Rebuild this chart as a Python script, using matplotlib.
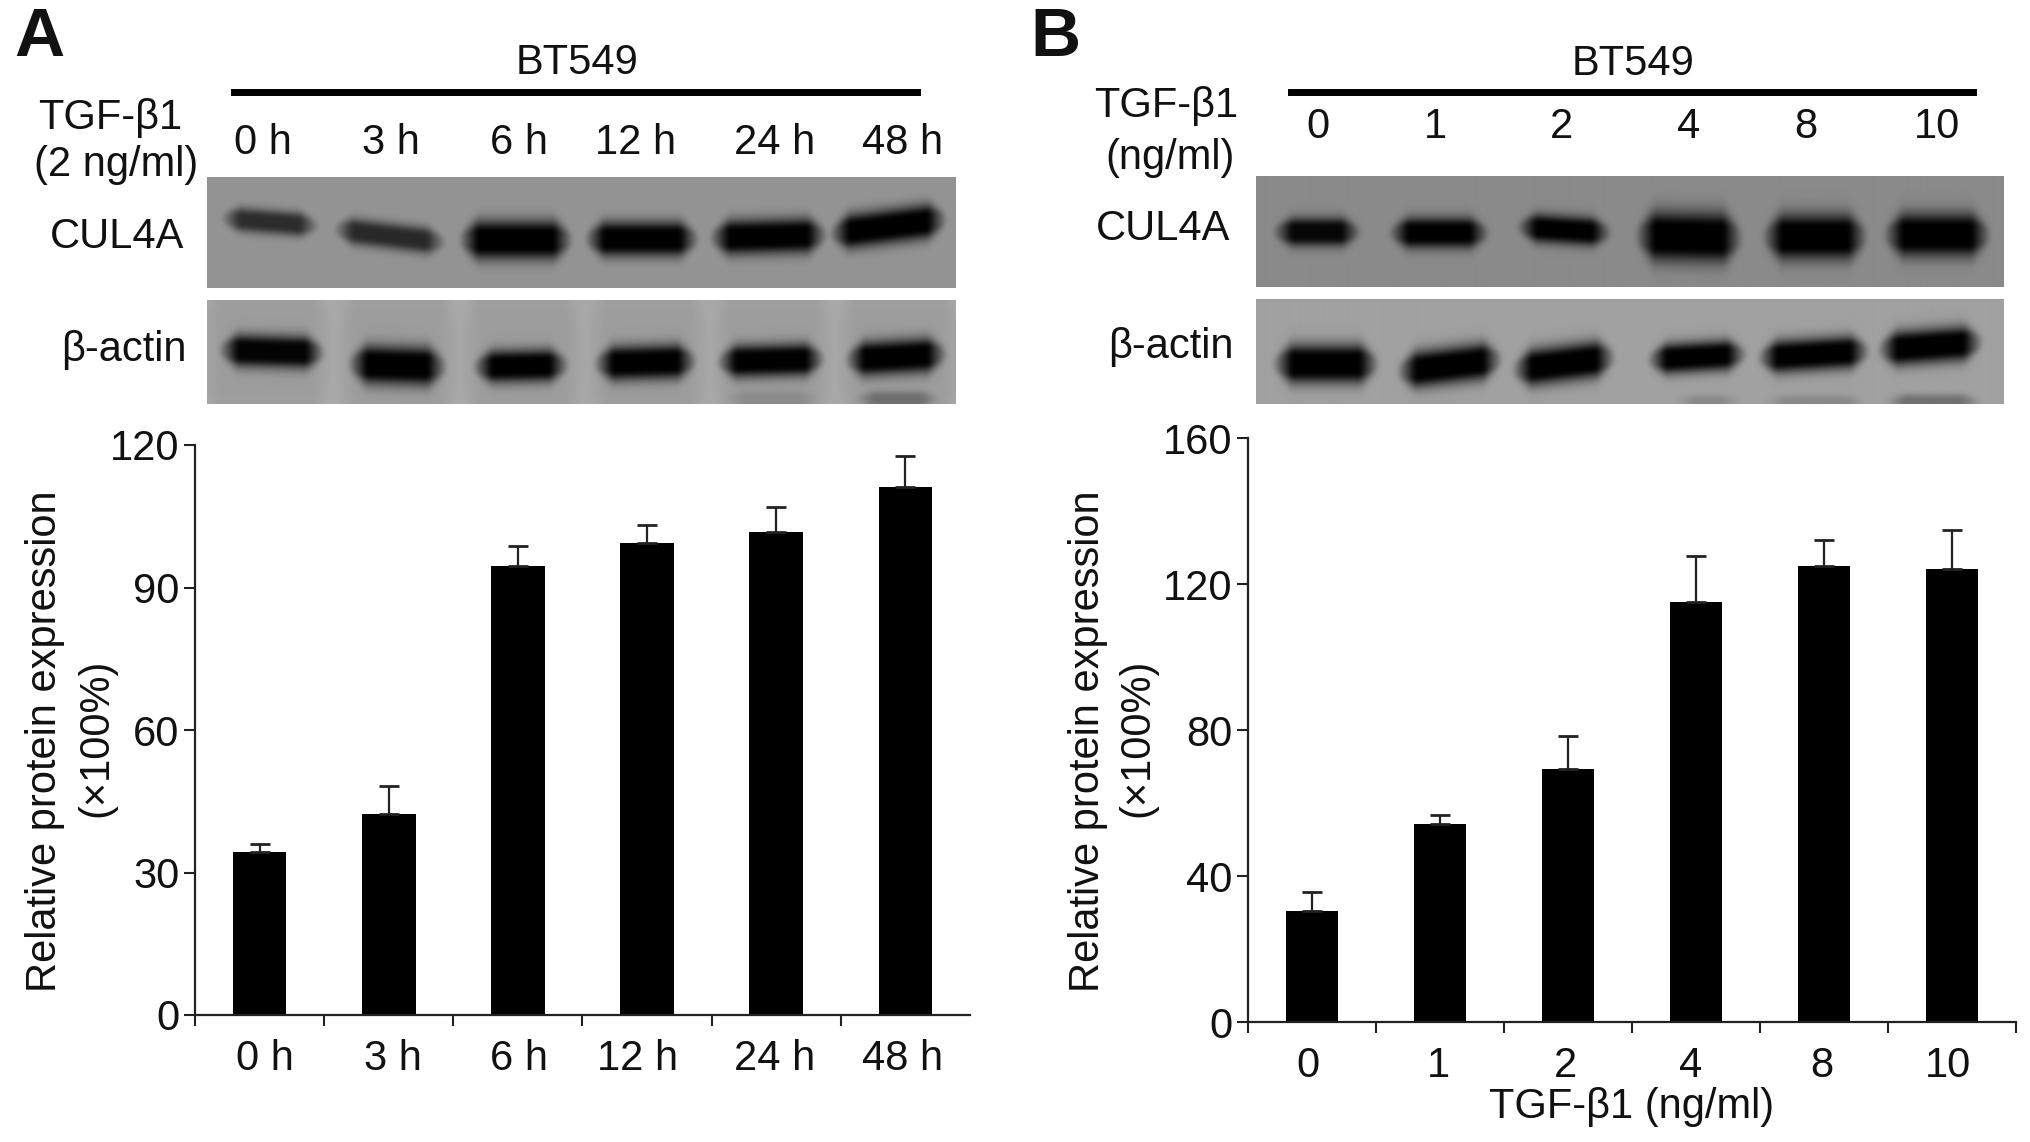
import numpy as np
import matplotlib
matplotlib.use("Agg")
import matplotlib.pyplot as plt

plt.rcParams["font.family"] = ["Liberation Sans", "DejaVu Sans"]

W, H = 2031, 1142

# Bar values
labels_a = ["0 h", "3 h", "6 h", "12 h", "24 h", "48 h"]
values_a = [34.4, 42.4, 94.5, 99.3, 101.6, 111.2]
err_a = [1.5, 5.8, 4.3, 3.9, 5.3, 6.5]

labels_b = ["0", "1", "2", "4", "8", "10"]
values_b = [30.4, 54.3, 69.2, 115.2, 124.8, 124.1]
err_b = [5.3, 2.5, 9.2, 12.6, 7.2, 10.7]

# Blot bands: x start, x end, y at left, y at right, half height, darkness
cul4a_a = [(226, 314, 218, 226, 11, 0.7), (339, 441, 229, 243, 12, 0.72), (464, 568, 240, 240, 18, 1.0),
           (590, 694, 239, 239, 16, 1.0), (715, 822, 238, 235, 16, 1.0), (835, 942, 234, 219, 16, 1.0)]
actin_a = [(205, 328, 350, 350, 70, 0.07), (340, 455, 355, 355, 70, 0.07), (465, 580, 355, 355, 70, 0.07),
           (590, 705, 355, 355, 70, 0.07), (715, 830, 355, 355, 70, 0.07), (840, 958, 355, 355, 70, 0.07),
           (224, 320, 350, 353, 15, 0.98), (353, 442, 364, 367, 18, 1.0), (478, 564, 367, 365, 15, 1.0),
           (599, 692, 364, 361, 16, 1.0), (722, 820, 362, 359, 15, 1.0), (850, 942, 360, 354, 16, 1.0),
           (730, 815, 399, 399, 7, 0.12), (860, 935, 399, 399, 7, 0.3)]
cul4a_b = [(1278, 1356, 232, 232, 13, 0.95), (1394, 1484, 233, 233, 14, 1.0), (1522, 1606, 227, 233, 13, 1.0),
           (1640, 1737, 236, 238, 23, 1.0), (1767, 1862, 237, 237, 21, 1.0), (1888, 1985, 235, 235, 20, 1.0)]
actin_b = [(1278, 1374, 364, 364, 18, 1.0), (1402, 1497, 372, 359, 17, 1.0), (1517, 1610, 370, 357, 17, 1.0),
           (1652, 1741, 360, 354, 14, 1.0), (1762, 1864, 358, 351, 15, 1.0), (1882, 1977, 350, 342, 16, 1.0),
           (1680, 1735, 401, 401, 5, 0.15), (1770, 1860, 401, 401, 5, 0.15), (1890, 1975, 401, 401, 6, 0.3)]


def px_axes(fig, x0, y0, x1, y1):
    # axes from reference pixel box (y going down)
    return fig.add_axes([x0 / W, 1 - y1 / H, (x1 - x0) / W, (y1 - y0) / H])


def soften(img, n=7):
    # small box blur along both directions, edges padded
    kernel = np.ones(n) / n
    pad = np.pad(img, n, mode="edge")
    pad = np.apply_along_axis(lambda r: np.convolve(r, kernel, mode="same"), 0, pad)
    pad = np.apply_along_axis(lambda r: np.convolve(r, kernel, mode="same"), 1, pad)
    return pad[n:-n, n:-n]


def draw_blot(fig, box, bands, bg):
    x0, y0, x1, y1 = box
    xx, yy = np.meshgrid(np.arange(x0, x1) + 0.5, np.arange(y0, y1) + 0.5)
    img = np.full(xx.shape, bg, dtype=float)
    for xs, xe, yl, yr, h, dark in bands:
        xs, xe = xs - 6, xe + 6
        t = (xx - xs) / (xe - xs)
        yc = yl + (yr - yl) * t
        edge = np.clip(np.minimum(t, 1 - t) * (xe - xs) / 20.0, 0.001, 1)
        taper = np.sqrt(edge)
        core = np.clip(1.3 * np.exp(-np.abs((yy - yc) / (h * taper)) ** 2.4), 0, 1) * edge
        img = img * (1 - dark * core)
    ax = px_axes(fig, x0, y0, x1, y1)
    ax.imshow(soften(img), cmap="gray", vmin=0, vmax=1, aspect="auto", interpolation="bilinear")
    ax.axis("off")


def draw_bars(ax, values, err, labels, ymax, yticks, width, shifts, cap):
    x = np.arange(len(values))
    ax.bar(x, values, width=width, color="black", linewidth=0)
    ax.errorbar(x, values, yerr=[np.zeros(len(err)), err], fmt="none", ecolor="#222222",
                elinewidth=1.6, capsize=cap, capthick=2)
    ax.set_xlim(-0.5, 5.5)
    ax.set_ylim(0, ymax)
    ax.set_yticks(yticks)
    ax.spines["top"].set_visible(False)
    ax.spines["right"].set_visible(False)
    for s in ["left", "bottom"]:
        ax.spines[s].set_linewidth(1.6)
        ax.spines[s].set_color("#222222")
    ax.tick_params(axis="y", which="major", length=8, width=1.5, labelsize=30, pad=3, color="#222222", labelcolor="#111111")
    ax.tick_params(axis="x", which="major", length=8, width=1.5, labelbottom=False, color="#222222")
    ax.set_xticks(x + np.array(shifts), labels=labels, minor=True)
    ax.tick_params(axis="x", which="minor", length=0, labelsize=30, pad=17, labelcolor="#111111")
    ax.patch.set_alpha(0)


def label(x, y, s, size=30, **kw):
    fig.text(x / W, 1 - y / H, s, fontsize=size, ha="center", va="center", color="#111111", **kw)


fig = plt.figure(figsize=(W / 100, H / 100), dpi=100)

# Panel A
draw_blot(fig, (207, 177, 956, 288), cul4a_a, 0.58)
draw_blot(fig, (207, 300, 956, 404), actin_a, 0.66)
ax_a = px_axes(fig, 195, 445, 970, 1015)
draw_bars(ax_a, values_a, err_a, labels_a, 120, [0, 30, 60, 90, 120], 0.415,
          [0.04, 0.03, 0.01, -0.07, -0.01, -0.02], 7)
ax_a.set_xticks(np.arange(6) - 0.5)

label(39, 38, "A", size=50, fontweight="bold")
label(577, 63, "BT549")
fig.add_artist(plt.Line2D([234 / W, 917 / W], [1 - 92 / H, 1 - 92 / H], color="black", linewidth=5))
label(110, 118, "TGF-β1")
label(116, 165, "(2 ng/ml)")
for name, xp in zip(labels_a, [263, 391, 519, 636, 775, 903]):
    label(xp, 143, name)
label(117, 237, "CUL4A")
label(124, 350, "β-actin")
label(45, 741, "Relative protein expression", size=30, rotation=90)
label(96, 738, "(×100%)", rotation=90)

# Panel B
draw_blot(fig, (1256, 176, 2003, 287), cul4a_b, 0.54)
draw_blot(fig, (1256, 299, 2003, 404), actin_b, 0.63)
ax_b = px_axes(fig, 1248, 438, 2016, 1022)
draw_bars(ax_b, values_b, err_b, labels_b, 160, [0, 40, 80, 120, 160], 0.40,
          [-0.03, -0.01, -0.02, -0.04, -0.02, -0.03], 7)
ax_b.set_xticks(np.arange(7) - 0.5)

label(1055, 38, "B", size=50, fontweight="bold")
label(1633, 64, "BT549")
fig.add_artist(plt.Line2D([1291 / W, 1973 / W], [1 - 92 / H, 1 - 92 / H], color="black", linewidth=5))
label(1166, 106, "TGF-β1")
label(1170, 158, "(ng/ml)")
for name, xp in zip(labels_b, [1318, 1435, 1562, 1689, 1806, 1937]):
    label(xp, 127, name)
label(1163, 229, "CUL4A")
label(1171, 347, "β-actin")
label(1088, 741, "Relative protein expression", size=30, rotation=90)
label(1137, 738, "(×100%)", rotation=90)
label(1632, 1107, "TGF-β1 (ng/ml)")

fig.savefig("out.png", dpi=100)
